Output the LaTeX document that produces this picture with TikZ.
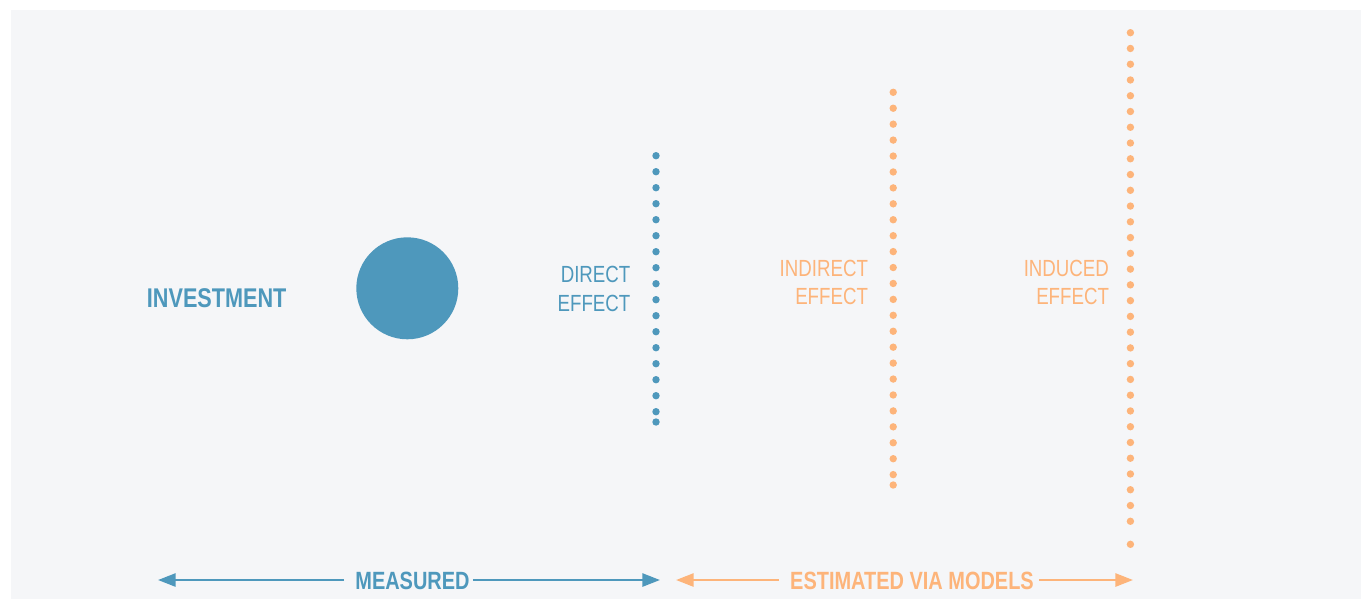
\documentclass[tikz,border=0pt]{standalone}
\usepackage{fontspec}
\setmainfont{Liberation Sans}
\newfontfamily\condfont[FakeStretch=0.8]{Liberation Sans}
\usepackage{tikz}
\usetikzlibrary{arrows.meta, positioning}

\definecolor{measblue}{HTML}{4E98BC}
\definecolor{modelorange}{HTML}{FDB47A}
\definecolor{panelgrey}{HTML}{F5F6F8}

\tikzset{
    effect/.style={inner sep=0pt, align=right, anchor=east,
        font=\condfont\fontsize{13.3}{16.2}\selectfont},
    spanlabel/.style={inner sep=0pt, font=\condfont\bfseries\fontsize{14.2}{16}\selectfont},
    span/.style={line width=1.4pt, -{Triangle[length=10pt, width=7.4pt]}},
}

\begin{document}
\begin{tikzpicture}[x=0.02cm, y=-0.02cm]

    \useasboundingbox (0,0) rectangle (1361,599);
    \fill[panelgrey] (11,10) rectangle (1361,599);

    \node[spanlabel, font=\condfont\bfseries\fontsize{15.4}{17}\selectfont, text=measblue] (invest) at (216.7,297.8) {INVESTMENT};
    \node[circle, fill=measblue, minimum size=2.04cm, inner sep=0pt] (ball) at (407.3,288.3) {};

    % dotted columns
    \foreach \k in {0,...,16}
        \fill[measblue] (656,155.7+16*\k) circle[radius=3.7];
    \fill[measblue] (656,422) circle[radius=3.7];

    \foreach \k in {0,...,24}
        \fill[modelorange] (893.2,92.3+15.93*\k) circle[radius=3.7];
    \fill[modelorange] (893.2,485) circle[radius=3.7];

    \foreach \k in {0,...,31}
        \fill[modelorange] (1130.4,32.7+15.76*\k) circle[radius=3.7];
    \fill[modelorange] (1130.4,544.3) circle[radius=3.7];

    \node[effect, text=measblue] (direct) at (630.7,288.9) {DIRECT\\EFFECT};
    \node[effect, text=modelorange] (indirect) at (868.3,282.5) {INDIRECT\\EFFECT};
    \node[effect, text=modelorange] (induced) at (1109.3,282.5) {INDUCED\\EFFECT};

    % bottom spans
    \coordinate (measL) at (158,580);
    \coordinate (measR) at (660,580);
    \coordinate (estL) at (676,580);
    \coordinate (estR) at (1133,580);

    \node[spanlabel, text=measblue] (measured) at (412.5,581) {MEASURED};
    \node[spanlabel, text=modelorange] (estimated) at (912,581) {ESTIMATED VIA MODELS};

    \draw[span, measblue] ([xshift=-6.2pt]measured.west |- measL) -- (measL);
    \draw[span, measblue] ([xshift=1.7pt]measured.east |- measR) -- (measR);
    \draw[span, modelorange] ([xshift=-6.2pt]estimated.west |- estL) -- (estL);
    \draw[span, modelorange] ([xshift=2.8pt]estimated.east |- estR) -- (estR);

\end{tikzpicture}
\end{document}
